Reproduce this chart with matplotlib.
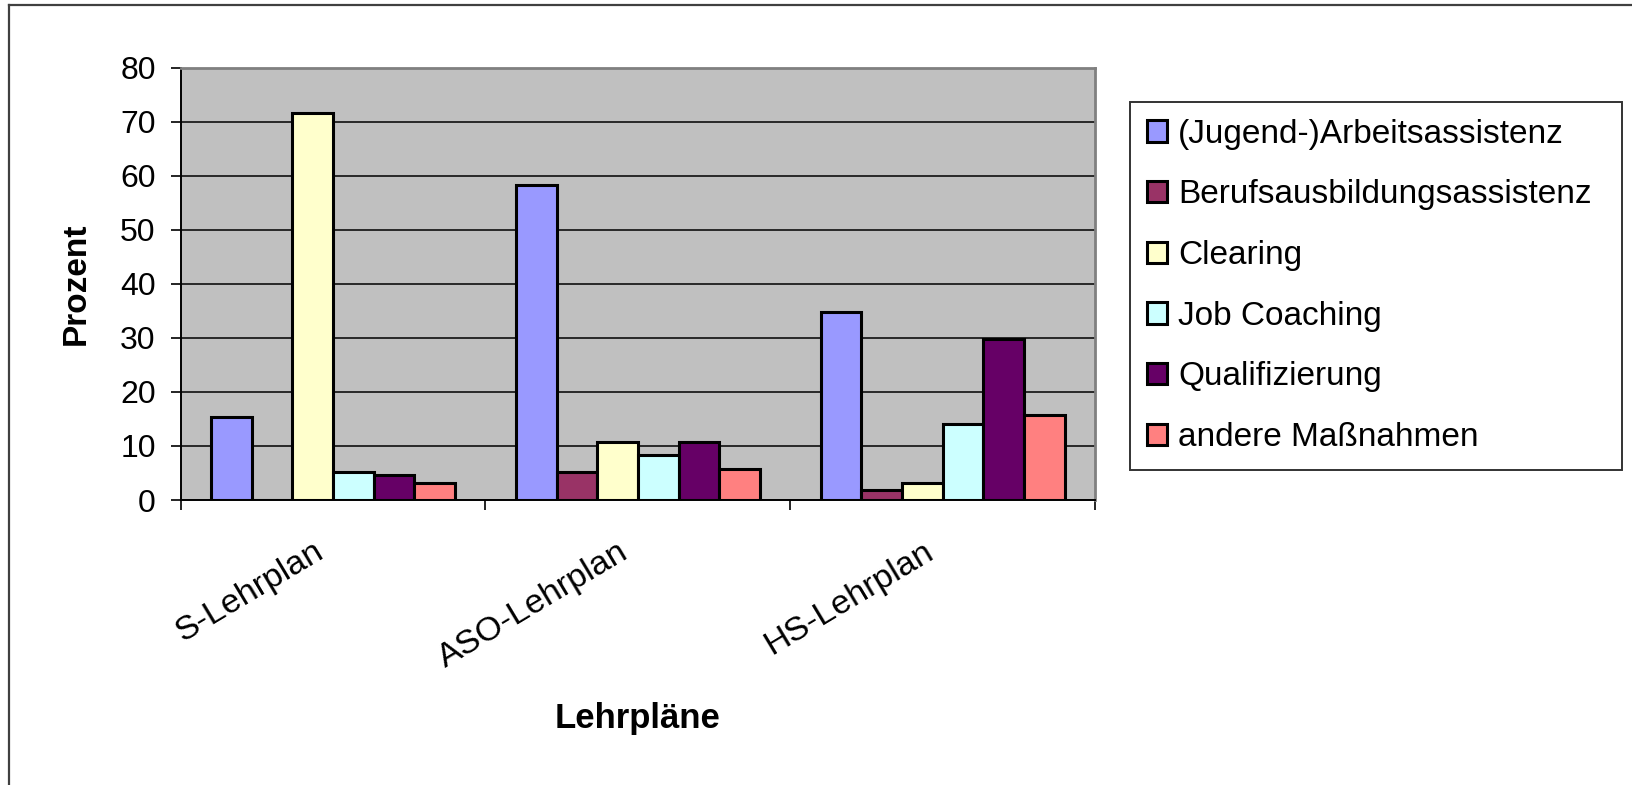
import numpy as np
import matplotlib
matplotlib.use("Agg")
import matplotlib.pyplot as plt
from matplotlib.lines import Line2D
from matplotlib.transforms import ScaledTranslation

plt.rcParams['font.family'] = ['Liberation Sans', 'DejaVu Sans']

categories = ['S-Lehrplan', 'ASO-Lehrplan', 'HS-Lehrplan']
series_names = ['(Jugend-)Arbeitsassistenz', 'Berufsausbildungsassistenz', 'Clearing',
                'Job Coaching', 'Qualifizierung', 'andere Maßnahmen']
arbeitsassistenz = [15.3, 58.3, 34.8]
berufsausbildung = [0.0, 5.1, 1.9]
clearing = [71.7, 10.7, 3.1]
job_coaching = [5.1, 8.3, 14.1]
qualifizierung = [4.6, 10.7, 29.8]
andere = [3.1, 5.7, 15.7]
colors = ['#9999FF', '#993366', '#FFFFCC', '#CCFFFF', '#660066', '#FF8080']
yticks = [0, 10, 20, 30, 40, 50, 60, 70, 80]

series = [arbeitsassistenz, berufsausbildung, clearing, job_coaching, qualifizierung, andere]

fig = plt.figure(figsize=(16.32, 7.85), dpi=100)
ax = fig.add_axes([0.1107, 0.363, 0.5603, 0.5508])
ax.set_facecolor('#C0C0C0')

x = np.arange(len(categories))
w = 1 / 7.5
for j, (vals, name, c) in enumerate(zip(series, series_names, colors)):
    ax.bar(x + (j - 2.5) * w, vals, width=w, color=c, edgecolor='black',
           linewidth=2.2, label=name, zorder=3)

ax.set_xlim(-0.5, 2.5)
ax.set_ylim(0, 80)
ax.set_yticks(yticks)
ax.yaxis.grid(True, color='black', linewidth=1.1, zorder=1)
ax.set_axisbelow(True)

ax.set_xticks(x)
ax.set_xticklabels(categories, rotation=31, ha='right', va='top', rotation_mode='anchor')
ax.set_xticks([-0.5, 0.5, 1.5, 2.5], minor=True)
ax.tick_params(axis='x', which='major', length=0, pad=26, labelsize=24.5)
ax.tick_params(axis='x', which='minor', length=7, width=1.2, direction='out')
ax.tick_params(axis='y', length=7, width=1.2, pad=11, labelsize=23)
# shift the slanted labels a little to the left, like the original
shift = ScaledTranslation(-20 / 100, 0, fig.dpi_scale_trans)
for lab in ax.get_xticklabels():
    lab.set_transform(lab.get_transform() + shift)

for s in ['left', 'bottom']:
    ax.spines[s].set_color('black')
    ax.spines[s].set_linewidth(1.4)
for s in ['top', 'right']:
    ax.spines[s].set_color('#808080')
    ax.spines[s].set_linewidth(2)

ax.set_ylabel('Prozent', fontsize=24, fontweight='bold')
ax.yaxis.set_label_coords(-0.097, 0.5)
ax.set_xlabel('Lehrpläne', fontsize=25, fontweight='bold', va='baseline')
ax.xaxis.set_label_coords(0.5, -0.527)

leg = fig.legend(loc='upper left', bbox_to_anchor=(0.6924, 0.410, 0.3015, 0.460),
                 mode='expand', borderaxespad=0, fontsize=24, frameon=True,
                 fancybox=False, handlelength=0.62, handleheight=0.62,
                 handletextpad=0.32, labelspacing=0.89, borderpad=0.5)
leg.get_frame().set_edgecolor('black')
leg.get_frame().set_linewidth(1.4)
for h in leg.legend_handles:
    h.set_linewidth(2.2)

# outer chart border (cropped on right and bottom)
fig.add_artist(Line2D([9 / 1632, 9 / 1632], [0, 1 - 5 / 785], color='#404040', linewidth=1.6,
                      transform=fig.transFigure))
fig.add_artist(Line2D([9 / 1632, 1], [1 - 5 / 785, 1 - 5 / 785], color='#404040', linewidth=1.6,
                      transform=fig.transFigure))

fig.savefig('out.png', dpi=100)
